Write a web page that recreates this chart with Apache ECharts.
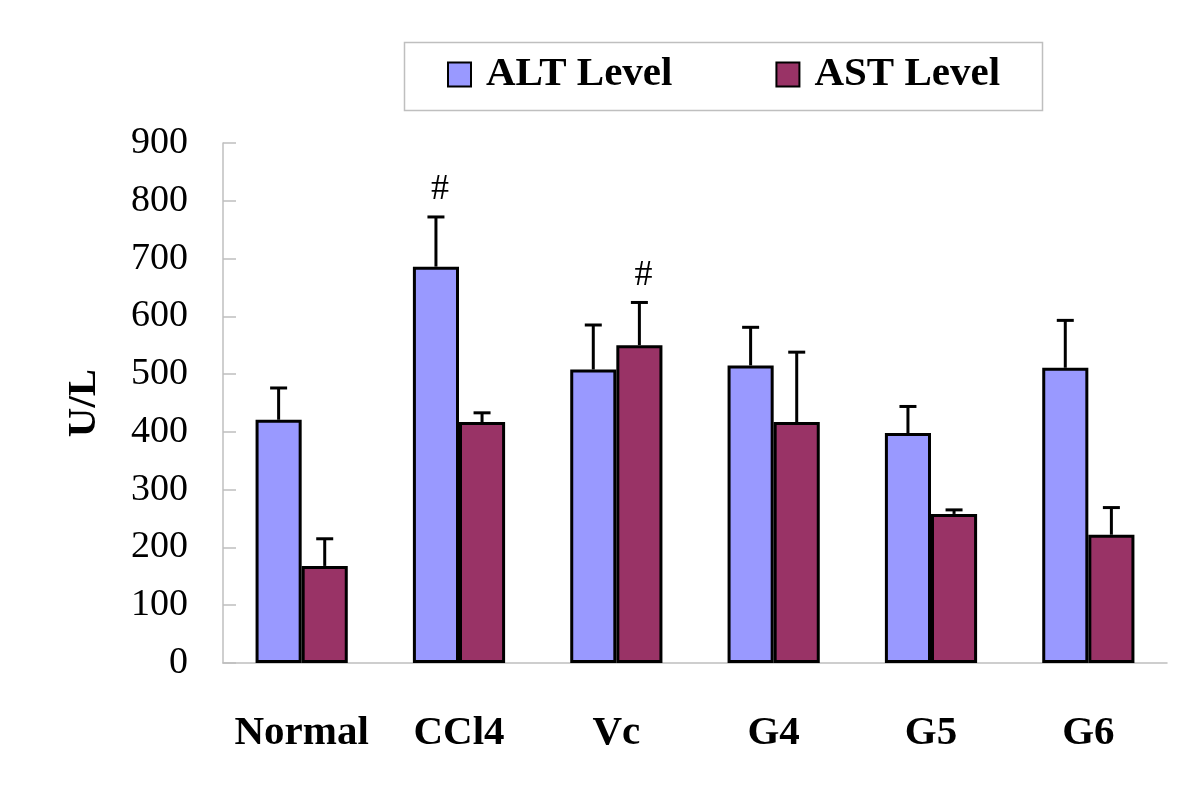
<!DOCTYPE html>
<html>
<head>
<meta charset="utf-8">
<script src="https://cdn.jsdelivr.net/npm/echarts@6/dist/echarts.min.js"></script>
<style>html,body{margin:0;padding:0;background:#fff;}#c{width:1200px;height:798px;}</style>
</head>
<body>
<div id="c"></div>
<script>
var categories = ['Normal', 'CCl4', 'Vc', 'G4', 'G5', 'G6'];
var altValues = [421, 686, 508, 515, 398, 511];
var altErrors = [55, 86, 77, 66, 46, 82];
var astValues = [168, 417, 550, 417, 258, 222];
var astErrors = [47, 16, 74, 121, 7, 47];
var altSig = ['', '#', '', '', '', ''];
var astSig = ['', '', '#', '', '', ''];
var yTicks = [0, 100, 200, 300, 400, 500, 600, 700, 800, 900];

var BAR_FRAC = 0.293;
var SERIF = 'Liberation Serif';

function errData(vals, errs) {
  return vals.map(function (v, i) { return [i, v, errs[i]]; });
}
function makeRender(side, sig) {
  return function (params, api) {
    var x = api.value(0), v = api.value(1), e = api.value(2);
    var w = api.size([1, 0])[0];
    var bw = w * BAR_FRAC;
    var base = api.coord([x, v]);
    var cx = base[0] + side * bw / 2;
    var top = api.coord([x, v + e])[1];
    var cap = 8.5;
    var style = { stroke: '#000', lineWidth: 3 };
    var children = [
      { type: 'line', shape: { x1: cx, y1: base[1], x2: cx, y2: top }, style: style },
      { type: 'line', shape: { x1: cx - cap, y1: top, x2: cx + cap, y2: top }, style: style }
    ];
    var s = sig[params.dataIndex];
    if (s) {
      children.push({ type: 'text', x: cx + 4, y: top - 27,
        style: { text: s, fill: '#000', font: '36px "Liberation Serif"', fontSize: 36, fontFamily: SERIF,
          align: 'center', verticalAlign: 'middle' } });
    }
    return { type: 'group', children: children };
  };
}

var chart = echarts.init(document.getElementById('c'));
chart.setOption({
  animation: false,
  backgroundColor: '#fff',
  grid: { left: 223, right: 33, top: 143, bottom: 135, containLabel: false },
  legend: {
    left: 447, top: 54, padding: 0,
    itemWidth: 23, itemHeight: 24, itemGap: 103,
    icon: 'rect',
    data: ['ALT Level', 'AST Level'],
    textStyle: { fontFamily: SERIF, fontWeight: 'bold', fontSize: 41, color: '#000', padding: [0, 0, 0, 10] }
  },
  graphic: [{
    type: 'rect', left: 402, top: 40,
    shape: { width: 638, height: 68 },
    style: { fill: 'none', stroke: '#bfbfbf', lineWidth: 1.5 }
  }],
  xAxis: {
    type: 'category', data: categories,
    axisLine: { lineStyle: { color: '#bfbfbf', width: 1.5 } },
    axisTick: { inside: true, length: 14, lineStyle: { color: '#bfbfbf', width: 1.5 } },
    axisLabel: { interval: 0, margin: 50, fontFamily: SERIF, fontWeight: 'bold', fontSize: 41, color: '#000' }
  },
  yAxis: {
    type: 'value', min: 0, max: 900, interval: 100,
    name: 'U/L', nameLocation: 'middle', nameGap: 118, nameRotate: 90,
    nameTextStyle: { fontFamily: SERIF, fontWeight: 'bold', fontSize: 41, color: '#000' },
    axisLine: { show: true, lineStyle: { color: '#bfbfbf', width: 1.5 } },
    axisTick: { show: true, inside: true, length: 13, lineStyle: { color: '#bfbfbf', width: 1.5 } },
    splitLine: { show: false },
    axisLabel: { margin: 35, fontFamily: SERIF, fontSize: 38, color: '#000',
      formatter: function (v) { return yTicks.indexOf(v) >= 0 ? String(v) : ''; } }
  },
  series: [
    { name: 'ALT Level', type: 'bar', data: altValues, barWidth: (BAR_FRAC * 100) + '%', barGap: '0%',
      itemStyle: { color: '#9999FF', borderColor: '#000', borderWidth: 3 } },
    { name: 'AST Level', type: 'bar', data: astValues, barWidth: (BAR_FRAC * 100) + '%', barGap: '0%',
      itemStyle: { color: '#993366', borderColor: '#000', borderWidth: 3 } },
    { name: 'ALT err', type: 'custom', data: errData(altValues, altErrors), renderItem: makeRender(-1, altSig), z: 5,
      encode: { x: 0, y: [1, 2] } },
    { name: 'AST err', type: 'custom', data: errData(astValues, astErrors), renderItem: makeRender(1, astSig), z: 5,
      encode: { x: 0, y: [1, 2] } }
  ]
});
</script>
</body>
</html>
